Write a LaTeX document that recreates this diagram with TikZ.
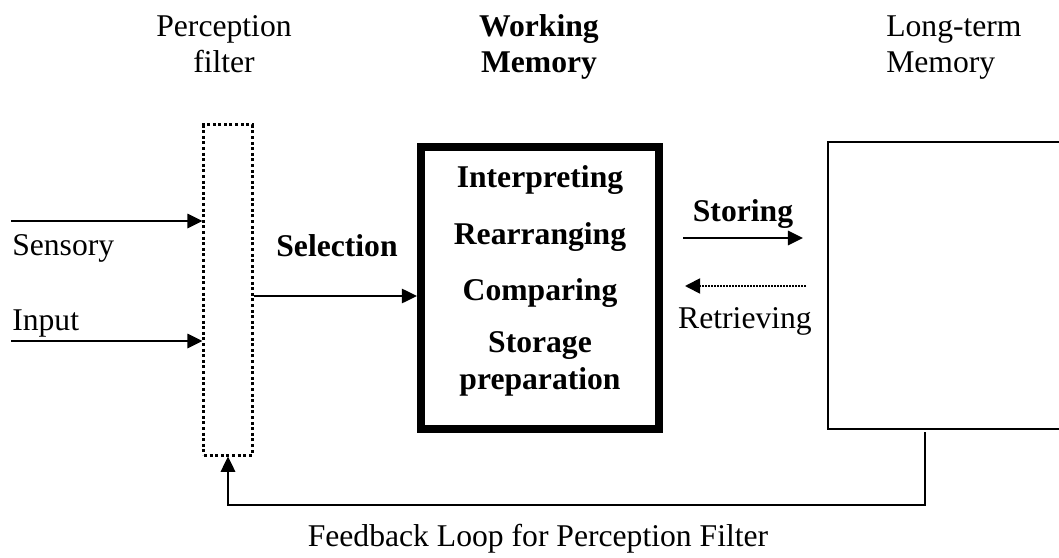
\documentclass[tikz,border=0pt]{standalone}
\usepackage{fontspec}
\setmainfont{Liberation Serif}
\usetikzlibrary{arrows.meta}
\tikzset{
  lbl/.style={font=\fontsize{22.5}{26.3}\selectfont, inner sep=0pt, align=center},
  blbl/.style={lbl, font=\fontsize{22.5}{26.3}\selectfont\bfseries},
  flow/.style={line width=0.05cm, -{Triangle[length=0.38cm,width=0.36cm]}},
  back/.style={line width=0.045cm, dash pattern=on 0.04cm off 0.035cm, -{Triangle[length=0.38cm,width=0.38cm]}},
}
\begin{document}
\begin{tikzpicture}[x=0.025cm,y=-0.025cm]
\clip (0,0) rectangle (1059,558);
% boxes
\node[draw, line width=0.075cm, dash pattern=on 0.075cm off 0.065cm,
  minimum width=1.2cm, minimum height=8.25cm] (filter) at (228,290) {};
\node[draw, line width=0.2cm, minimum width=5.95cm, minimum height=7.05cm] (wm) at (540,288) {};
\node[draw, line width=0.05cm, minimum width=6.05cm, minimum height=7.175cm] (ltm) at (949,285.5) {};
% titles
\node[lbl, anchor=base] (tfilter) at (224,73) {Perception\\filter};
\node[blbl, anchor=base] (twm) at (539,73) {Working\\Memory};
\node[lbl, align=left, anchor=base west] (tltm) at (886,73) {Long-term\\Memory};
% inside working memory
\node[blbl, anchor=base] (interp) at (540,187) {Interpreting};
\node[blbl, anchor=base] (rearr) at (540,244) {Rearranging};
\node[blbl, anchor=base] (comp) at (540,300) {Comparing};
\node[blbl, anchor=base] (prep) at (540,389) {Storage\\preparation};
% input side
\coordinate (in1) at (11,221);
\coordinate (in2) at (11,341);
\draw[flow] (in1) -- (in1 -| filter.west);
\draw[flow] (in2) -- (in2 -| filter.west);
\node[lbl, anchor=base west] (sensory) at (12,255) {Sensory};
\node[lbl, anchor=base west] (input) at (12,330) {Input};
\coordinate (sel) at (228,296);
\draw[flow] (sel -| filter.east) -- (sel -| wm.west);
\node[blbl, anchor=base] (tsel) at (337,256) {Selection};
% storing and retrieving
\coordinate (st1) at (683,238);
\coordinate (st2) at (803,238);
\draw[flow] (st1) -- (st2);
\node[blbl, anchor=base] (tstore) at (743,221) {Storing};
\coordinate (rt1) at (806,286);
\coordinate (rt2) at (685,286);
\draw[back] (rt1) -- (rt2);
\node[lbl, anchor=base] (tretr) at (745,328) {Retrieving};
% feedback loop
\coordinate (fb) at (925,432);
\draw[flow] (fb) -- ++(0,73) -| (filter.south);
\node[lbl, anchor=base] (tfb) at (538,546) {Feedback Loop for Perception Filter};
\end{tikzpicture}
\end{document}
